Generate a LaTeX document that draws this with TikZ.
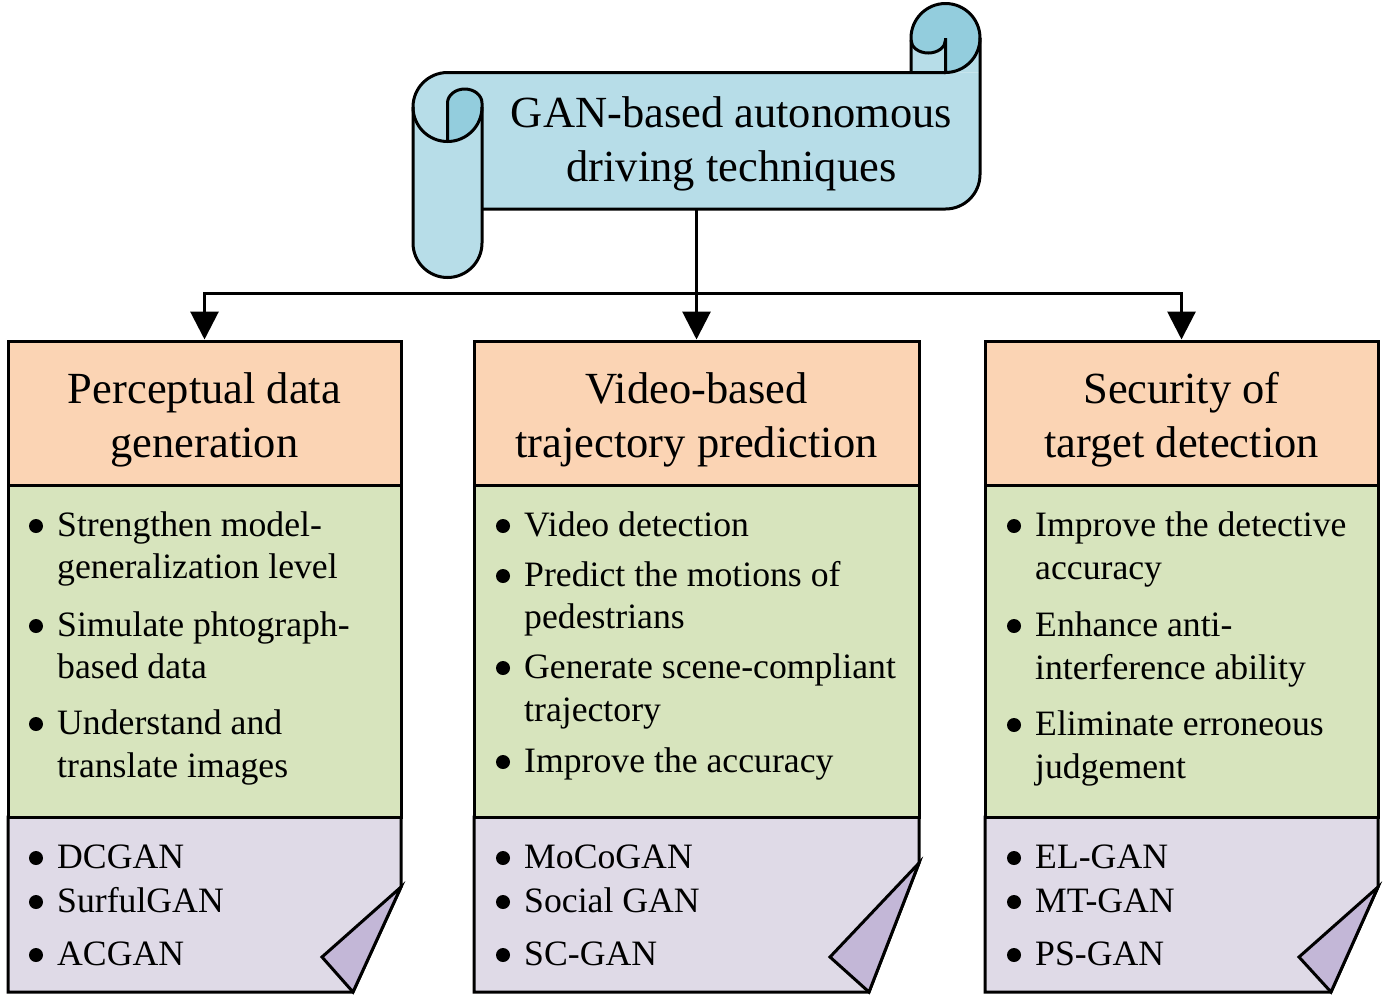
\documentclass[tikz,border=0pt]{standalone}
\usepackage{fontspec}
\setmainfont{Liberation Serif}
\usetikzlibrary{arrows.meta}
\definecolor{lb}{HTML}{B7DDE8}
\definecolor{db}{HTML}{93CDDD}
\definecolor{peach}{HTML}{FBD4B4}
\definecolor{grn}{HTML}{D7E4BD}
\definecolor{purp}{HTML}{DFDAE7}
\definecolor{fold}{HTML}{C3B7D7}
\newcommand{\bli}[4]{%
  \fill (#2-21,#3-10) circle (7);
  \node[itm] (#1) at (#2,#3) {#4};}
\newcommand{\cont}[4]{\node[itm] (#1) at (#2,#3) {#4};}
\begin{document}
\begin{tikzpicture}[x=1pt,y=-1pt,
  thk/.style={line width=3pt,line join=miter},
  ttl/.style={font=\fontsize{44.5}{54}\selectfont,anchor=base,inner sep=0pt},
  itm/.style={font=\fontsize{35.7}{42}\selectfont,anchor=base west,inner sep=0pt},
  hdr/.style={draw,line width=3pt,fill=peach,inner sep=0pt,minimum height=144pt},
  gbox/.style={draw,line width=3pt,fill=grn,inner sep=0pt,minimum height=332pt},
  arr/.style={line width=3pt,-{Triangle[length=28pt,width=28pt]}}]
\useasboundingbox (0,0) rectangle (1386,997);

% ---------- scroll ----------
\fill[lb] (413,107) arc[start angle=180,end angle=270,radius=34.5] -- (980,72.5) -- (980,174.5)
  arc[start angle=0,end angle=90,radius=34.5] -- (482,209) -- (482,243)
  arc[start angle=0,end angle=180,radius=34.5] -- cycle;
\fill[lb] (911,72.5) -- (911,38) arc[start angle=180,end angle=360,radius=34.5] -- (980,72.5) -- cycle;
\fill[db] (911,40) -- (911,38) arc[start angle=180,end angle=360,radius=34.5]
  arc[start angle=0,end angle=90,radius=34.5] -- (945.5,40)
  arc[start angle=0,end angle=180,x radius=17.25,y radius=13] -- cycle;
\fill[db] (447.5,141.5) -- (447.5,103) arc[start angle=180,end angle=360,x radius=17.25,y radius=14]
  -- (482,107) arc[start angle=0,end angle=90,radius=34.5] -- cycle;

\draw[thk] (945.5,72.5) -- (447.5,72.5) arc[start angle=270,end angle=180,radius=34.5] -- (413,243)
  arc[start angle=180,end angle=0,radius=34.5] -- (482,103);
\draw[thk] (413,107) arc[start angle=180,end angle=0,radius=34.5];
\draw[thk] (447.5,141.5) -- (447.5,103) arc[start angle=180,end angle=360,x radius=17.25,y radius=14];
\draw[thk] (911,72.5) -- (911,38) arc[start angle=180,end angle=360,radius=34.5] -- (980,174.5)
  arc[start angle=0,end angle=90,radius=34.5] -- (482,209);
\draw[thk] (980,38) arc[start angle=0,end angle=90,radius=34.5] -- (945.5,38);
\draw[thk] (911,40) arc[start angle=180,end angle=0,x radius=17.25,y radius=13];

\node[inner sep=0pt,minimum width=567pt,minimum height=136.5pt] (scroll) at (696.5,140.75) {};
\node[ttl] (t1) at (731.5,127) {GAN-based autonomous};
\node[ttl] (t2) at (731.5,181) {driving techniques};

% ---------- purple bottoms ----------
\draw[thk,fill=purp] (8,817) -- (401,817) -- (401,887) -- (353,992) -- (8,992) -- cycle;
\draw[thk,fill=fold] (401,887) -- (322,957) -- (353,992) -- cycle;
\draw[thk,fill=purp] (474,817) -- (919,817) -- (919,863) -- (869,992) -- (474,992) -- cycle;
\draw[thk,fill=fold] (919,863) -- (830,957) -- (869,992) -- cycle;
\draw[thk,fill=purp] (985,817) -- (1378,817) -- (1378,887) -- (1331,992) -- (985,992) -- cycle;
\draw[thk,fill=fold] (1378,887) -- (1299,957) -- (1331,992) -- cycle;

% ---------- green & headers ----------
\node[gbox,minimum width=393pt] (g1) at (204.5,651) {};
\node[gbox,minimum width=445pt] (g2) at (696.5,651) {};
\node[gbox,minimum width=393pt] (g3) at (1181.5,651) {};
\node[hdr,minimum width=393pt] (h1) at (204.5,413) {};
\node[hdr,minimum width=445pt] (h2) at (696.5,413) {};
\node[hdr,minimum width=393pt] (h3) at (1181.5,413) {};

\node[ttl] (h1a) at (204.5,403) {Perceptual data};
\node[ttl] (h1b) at (204.5,457) {generation};
\node[ttl] (h2a) at (696.5,403) {Video-based};
\node[ttl] (h2b) at (696.5,457) {trajectory prediction};
\node[ttl] (h3a) at (1181.5,403) {Security of};
\node[ttl] (h3b) at (1181.5,457) {target detection};

% ---------- connectors ----------
\coordinate (jn) at (696.5,293);
\draw[arr] (scroll.south) -- (h2.north);
\draw[arr] (jn) -| (h1.north);
\draw[arr] (jn) -| (h3.north);

% ---------- column 1 ----------
\bli{a1}{57}{536}{Strengthen model-}
\cont{a1b}{57}{578}{generalization level}
\bli{a2}{57}{636}{Simulate phtograph-}
\cont{a2b}{57}{678}{based data}
\bli{a3}{57}{734}{Understand and}
\cont{a3b}{57}{777}{translate images}
\bli{m1}{57}{868}{DCGAN}
\bli{m2}{57}{912}{SurfulGAN}
\bli{m3}{57}{965}{ACGAN}

% ---------- column 2 ----------
\bli{b1}{524}{536}{Video detection}
\bli{b2}{524}{586}{Predict the motions of}
\cont{b2b}{524}{628}{pedestrians}
\bli{b3}{524}{678}{Generate scene-compliant}
\cont{b3b}{524}{721}{trajectory}
\bli{b4}{524}{772}{Improve the accuracy}
\bli{n1}{524}{868}{MoCoGAN}
\bli{n2}{524}{912}{Social GAN}
\bli{n3}{524}{965}{SC-GAN}

% ---------- column 3 ----------
\bli{c1}{1035}{536}{Improve the detective}
\cont{c1b}{1035}{579}{accuracy}
\bli{c2}{1035}{636}{Enhance anti-}
\cont{c2b}{1035}{679}{interference ability}
\bli{c3}{1035}{735}{Eliminate erroneous}
\cont{c3b}{1035}{778}{judgement}
\bli{o1}{1035}{868}{EL-GAN}
\bli{o2}{1035}{912}{MT-GAN}
\bli{o3}{1035}{965}{PS-GAN}
\end{tikzpicture}
\end{document}
